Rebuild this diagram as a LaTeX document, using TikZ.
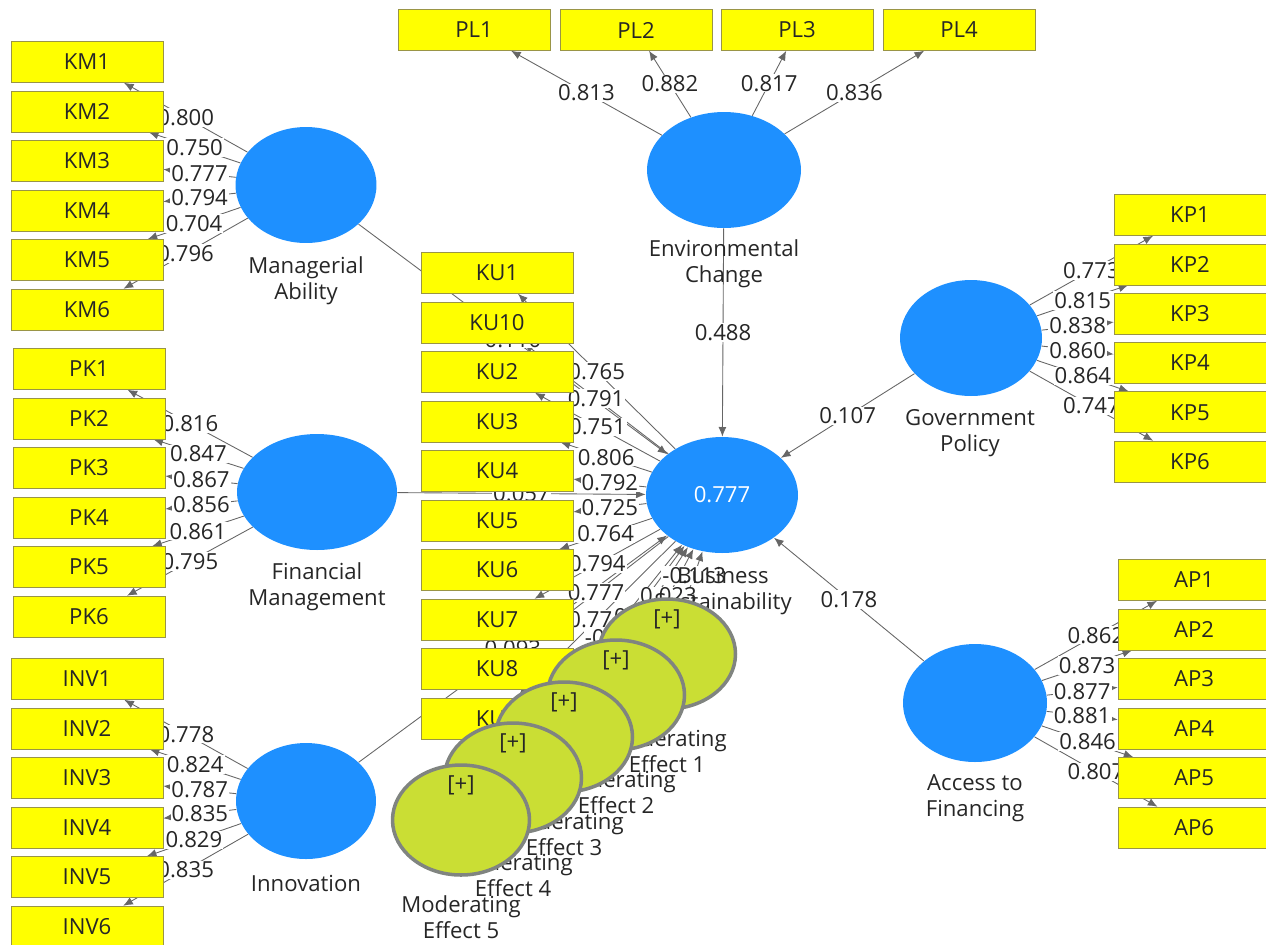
\documentclass[tikz,border=0pt]{standalone}
\usepackage{fontspec}
\setmainfont{Open Sans}
\usetikzlibrary{shapes.geometric,arrows.meta}
\definecolor{plsblue}{RGB}{30,144,255}
\definecolor{plsyellow}{RGB}{255,255,0}
\definecolor{modgreen}{RGB}{202,222,52}
\definecolor{modgray}{RGB}{128,132,128}
\pgfdeclarelayer{bg}
\pgfdeclarelayer{lbl}
\pgfdeclarelayer{front}
\pgfsetlayers{bg,lbl,main,front}
% latent / indicator / loading
\newcommand\loadlist{MA/KM1/0.800,MA/KM2/0.750,MA/KM3/0.777,MA/KM4/0.794,MA/KM5/0.704,MA/KM6/0.796,
FM/PK1/0.816,FM/PK2/0.847,FM/PK3/0.867,FM/PK4/0.856,FM/PK5/0.861,FM/PK6/0.795,
INV/INV1/0.778,INV/INV2/0.824,INV/INV3/0.787,INV/INV4/0.835,INV/INV5/0.829,INV/INV6/0.835,
EC/PL1/0.813,EC/PL2/0.882,EC/PL3/0.817,EC/PL4/0.836,
GP/KP1/0.773,GP/KP2/0.815,GP/KP3/0.838,GP/KP4/0.860,GP/KP5/0.864,GP/KP6/0.747,
AF/AP1/0.862,AF/AP2/0.873,AF/AP3/0.877,AF/AP4/0.881,AF/AP5/0.846,AF/AP6/0.807,
BS/KU1/0.765,BS/KU10/0.791,BS/KU2/0.751,BS/KU3/0.806,BS/KU4/0.792,BS/KU5/0.725,
BS/KU6/0.764,BS/KU7/0.794,BS/KU8/0.777,BS/KU9/0.772}
% paths into Business Sustainability
\newcommand\pathlist{MA/0.110,FM/0.057,INV/0.093,EC/0.488,GP/0.107,AF/0.178,
ME1/-0.113,ME2/0.023,ME3/0.041,ME4/-0.036,ME5/0.062}
\begin{document}
\begin{tikzpicture}[x=0.02cm,y=-0.02cm,
  font=\fontsize{12.6}{15}\selectfont,
  ind/.style={rectangle,draw=yellow!55!black,line width=0.3pt,fill=plsyellow,
    minimum width=3.04cm,minimum height=0.82cm,inner sep=0pt,text=black!85},
  lv/.style={ellipse,fill=plsblue,minimum height=2.32cm,inner sep=0pt},
  mod/.style={ellipse,draw=modgray,line width=2pt,fill=modgreen,
    minimum width=2.74cm,minimum height=2.2cm,inner sep=0pt},
  lvname/.style={align=center,text=black!85},
  val/.style={fill=white,inner sep=0.6pt,text=black!85},
  load/.style={draw=black!60,line width=0.5pt,-{Latex[length=5.5pt,width=4.5pt]}},
]
\useasboundingbox (0,0) rectangle (1266,944);

% latent variables
\node[lv,minimum width=2.82cm] (MA) at (306,185) {};
\node[lv,minimum width=3.2cm] (FM) at (317,492) {};
\node[lv,minimum width=2.8cm] (INV) at (306,801) {};
\node[lv,minimum width=3.08cm] (EC) at (724,170) {};
\node[lv,minimum width=3.04cm,text=white] (BS) at (722,495) {0.777};
\node[lv,minimum width=2.84cm] (GP) at (971,338) {};
\node[lv,minimum width=2.88cm,minimum height=2.36cm] (AF) at (975,703) {};

\node[lvname] (MAt) at (306,281) {Managerial\\Ability};
\node[lvname] (FMt) at (317,587) {Financial\\Management};
\node[lvname] (INVt) at (306,883) {Innovation};
\node[lvname] (ECt) at (724,264) {Environmental\\Change};
\node[lvname] (BSt) at (723,591) {Business\\Sustainability};
\node[lvname] (GPt) at (970,433) {Government\\Policy};
\node[lvname] (AFt) at (975,798) {Access to\\Financing};

% indicators
\foreach \i in {1,...,6} {
  \node[ind] (KM\i) at (87,{62+49.5*(\i-1)}) {KM\i};
  \node[ind] (PK\i) at (89,{369+49.5*(\i-1)}) {PK\i};
  \node[ind] (INV\i) at (87,{679+49.5*(\i-1)}) {INV\i};
  \node[ind] (KP\i) at (1190,{215+49.3*(\i-1)}) {KP\i};
  \node[ind] (AP\i) at (1194,{580+49.5*(\i-1)}) {AP\i};
}
\foreach \i/\x in {1/474,2/636,3/797,4/959}
  \node[ind] (PL\i) at (\x,30) {PL\i};
\foreach \n [count=\k from 0] in {1,10,2,3,4,5,6,7,8,9}
  \node[ind] (KU\n) at (497,{273+49.5*\k}) {KU\n};

% moderating effects
\begin{pgfonlayer}{front}
\foreach \k/\cx/\cy in {1/667/654,2/616/695,3/564/737,4/513/778,5/461/820} {
  \node[mod] (ME\k) at (\cx,\cy) {};
  \node[text=black!85] (MEp\k) at (\cx,{\cy-35}) {[+]};
  \node[lvname] (MEt\k) at (\cx,{\cy+97}) {Moderating\\Effect \k};
}
\end{pgfonlayer}

% connectors
\begin{pgfonlayer}{bg}
\foreach \a/\b/\v in \loadlist
  \draw[load] (\a) -- (\b);
\foreach \a/\v in \pathlist
  \draw[load] (\a) -- (BS);
\end{pgfonlayer}
\begin{pgfonlayer}{lbl}
\foreach \a/\b/\v in \loadlist
  \path (\a) -- node[val] {\v} (\b);
\foreach \a/\v in \pathlist
  \path (\a) -- node[val] {\v} (BS);
\end{pgfonlayer}
\end{tikzpicture}
\end{document}
